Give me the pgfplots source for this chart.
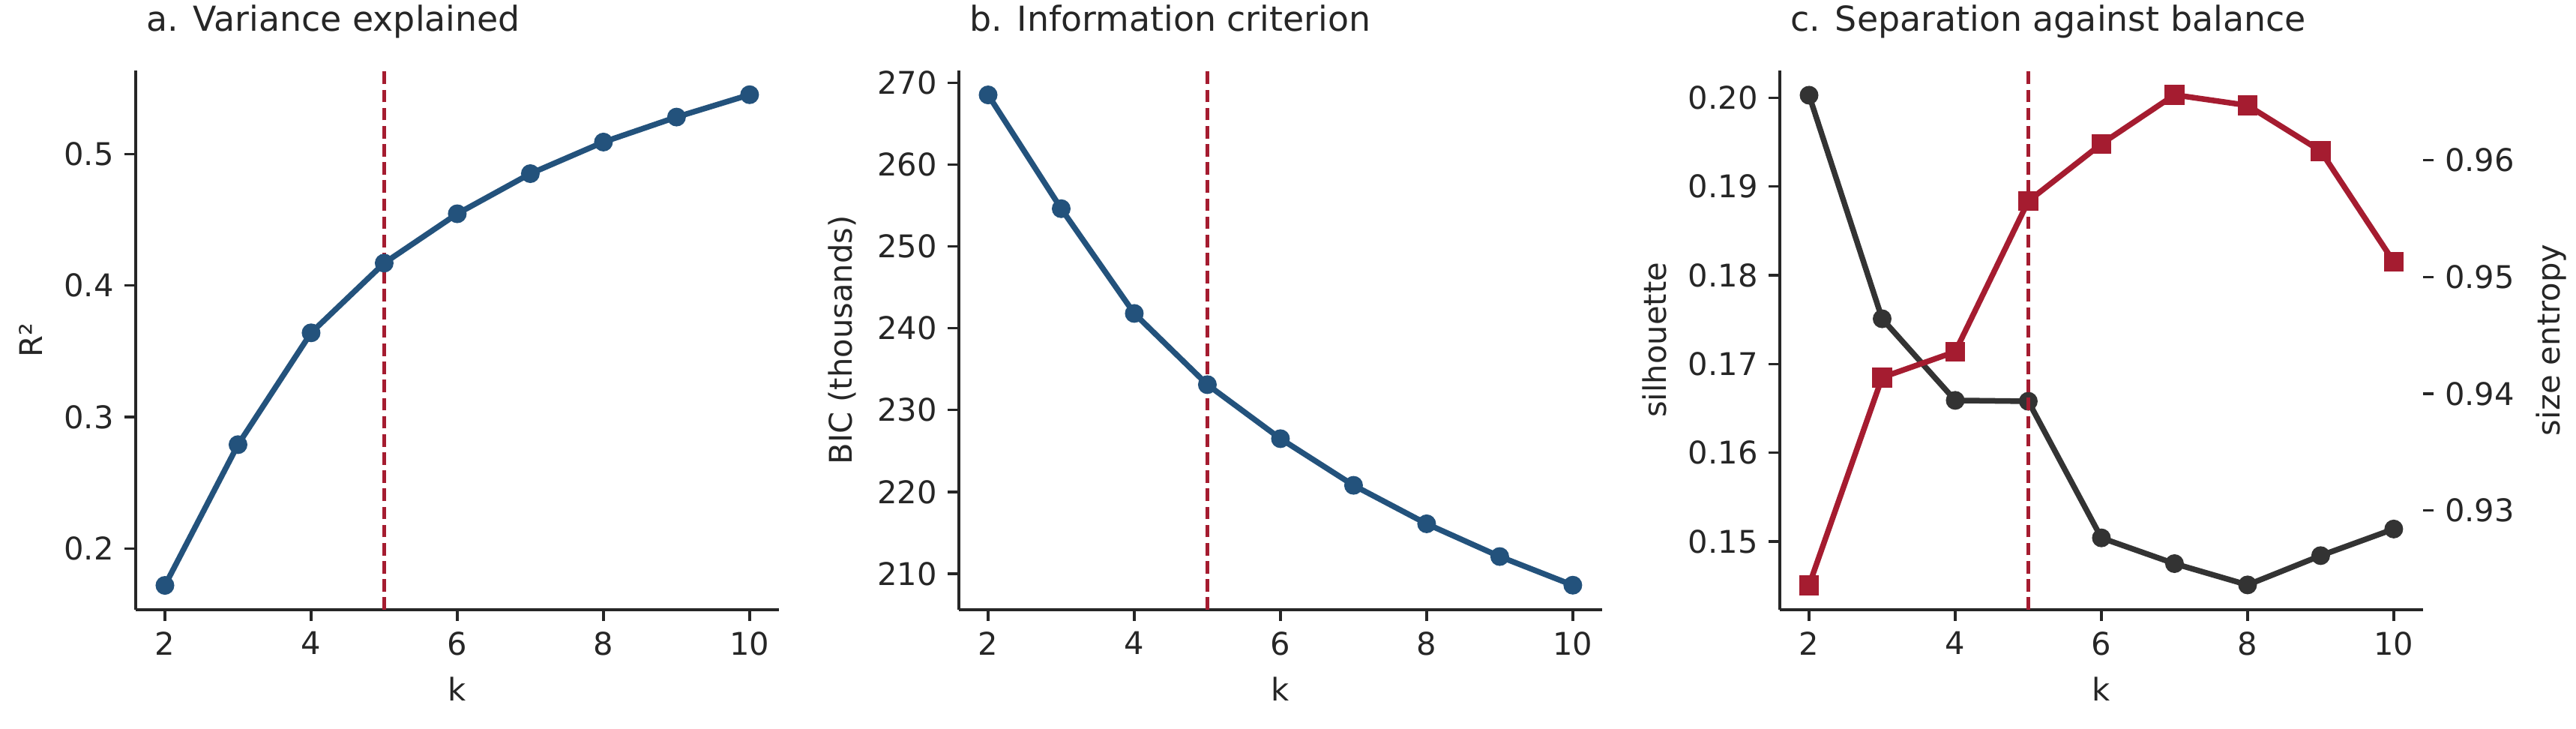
\documentclass[border=0pt]{standalone}
\usepackage{fontspec}
\setmainfont{DejaVu Sans}
\usepackage{pgfplots}
\pgfplotsset{compat=1.18}

\definecolor{kblue}{HTML}{23527C}
\definecolor{kred}{HTML}{A51C30}
\definecolor{kdark}{HTML}{333333}
\definecolor{spine}{HTML}{262626}

\pgfplotsset{
  panel/.style={
    scale only axis, width=205.9pt, height=172.6pt,
    axis x line*=bottom, axis y line*=left,
    axis line style={spine, line width=0.8pt, -},
    tick align=outside, major tick length=3.5pt,
    tick style={spine, line width=0.8pt},
    xmin=1.6, xmax=10.4, xtick={2,4,6,8,10},
    xlabel={k},
    tick label style={font=\fontsize{10}{12}\selectfont, text=spine},
    label style={font=\fontsize{10}{12}\selectfont, text=spine},
    title style={at={(0,1)}, anchor=base west, yshift=6.5pt,
      font=\fontsize{11}{13}\selectfont, text=spine},
    /pgf/number format/assume math mode=true,
    clip=false,
  },
  kline/.style={kblue, line width=1.8pt, mark=*, mark size=2.8pt,
    mark options={line width=0.4pt}},
  kvline/.style={kred, line width=1pt, dash pattern=on 4pt off 1.8pt},
}

\begin{document}
\begin{tikzpicture}
\useasboundingbox (0,0) rectangle (824.64pt,233.04pt);

% a. variance explained
\begin{axis}[panel, at={(43.44pt,37.92pt)}, anchor=south west,
  title={a. Variance explained}, ylabel={R²},
  ymin=0.1535, ymax=0.5635, ytick={0.2,0.3,0.4,0.5},
  yticklabel style={/pgf/number format/.cd, fixed, fixed zerofill, precision=1}]
\addplot[kline] coordinates {
(2,0.172) (3,0.279) (4,0.364) (5,0.417) (6,0.4545)
(7,0.485) (8,0.509) (9,0.528) (10,0.545)
};
\addplot[kvline] coordinates {(5,0.1535) (5,0.5635)};
\end{axis}

% b. information criterion
\begin{axis}[panel, at={(306.96pt,37.92pt)}, anchor=south west,
  title={b. Information criterion}, ylabel={BIC (thousands)},
  ymin=205.6, ymax=271.5, ytick={210,220,...,270}]
\addplot[kline] coordinates {
(2,268.5) (3,254.6) (4,241.8) (5,233.1) (6,226.5)
(7,220.8) (8,216.1) (9,212.1) (10,208.6)
};
\addplot[kvline] coordinates {(5,205.6) (5,271.5)};
\end{axis}

% c. separation against balance
\begin{axis}[panel, at={(569.76pt,37.92pt)}, anchor=south west,
  title={c. Separation against balance}, ylabel={silhouette},
  ymin=0.1423, ymax=0.2031, ytick={0.15,0.16,...,0.2},
  yticklabel style={/pgf/number format/.cd, fixed, fixed zerofill, precision=2}]
\addplot[kdark, line width=1.8pt, mark=*, mark size=2.8pt,
  mark options={line width=0.4pt}] coordinates {
(2,0.2003) (3,0.1751) (4,0.1659) (5,0.1658) (6,0.1504)
(7,0.1475) (8,0.1451) (9,0.1484) (10,0.1514)
};
\end{axis}
\begin{axis}[panel, at={(569.76pt,37.92pt)}, anchor=south west,
  axis y line*=right, hide x axis, y axis line style={draw=none},
  xlabel={}, ylabel={size entropy},
  ymin=0.9215, ymax=0.9677, ytick={0.93,0.94,0.95,0.96},
  yticklabel style={/pgf/number format/.cd, fixed, fixed zerofill, precision=2}]
\addplot[kred, line width=1.8pt, mark=square*, mark size=3pt,
  mark options={line width=0.4pt}] coordinates {
(2,0.9236) (3,0.9414) (4,0.9436) (5,0.9565) (6,0.9614)
(7,0.9656) (8,0.9647) (9,0.9608) (10,0.9513)
};
\addplot[kvline] coordinates {(5,0.9215) (5,0.9677)};
\end{axis}
\end{tikzpicture}
\end{document}
